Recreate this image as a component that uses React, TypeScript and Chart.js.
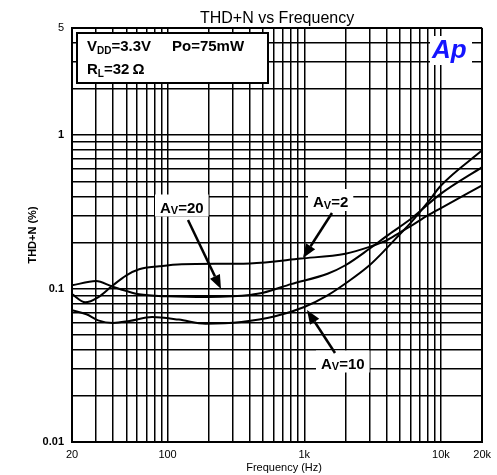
import React, { useEffect, useRef } from 'react';
import { Chart, registerables } from 'chart.js';
Chart.register(...registerables);

const FAM = '"Liberation Sans", Arial, Helvetica, sans-serif';

const TITLE = 'THD+N vs Frequency';
const X_TITLE = 'Frequency (Hz)';
const Y_TITLE = 'THD+N (%)';

const X_MIN = 20;
const X_MAX = 20000;
const Y_MIN = 0.01;
const Y_MAX = 5;

const X_GRID = [20, 30, 40, 50, 60, 70, 80, 90, 100, 200, 300, 400, 500, 600, 700, 800, 900, 1000, 2000, 3000, 4000, 5000, 6000, 7000, 8000, 9000, 10000, 20000];
const Y_GRID = [0.01, 0.02, 0.03, 0.04, 0.05, 0.06, 0.07, 0.08, 0.09, 0.1, 0.2, 0.3, 0.4, 0.5, 0.6, 0.7, 0.8, 0.9, 1, 2, 3, 4, 5];

const X_LABEL_VALUES = [20, 100, 1000, 10000, 20000];
const X_LABEL_TEXT = ['20', '100', '1k', '10k', '20k'];
const Y_LABEL_VALUES = [0.01, 0.1, 1, 5];
const Y_LABEL_TEXT = ['0.01', '0.1', '1', '5'];

// Av = 2
const AV2_FREQ = [20, 25, 31, 39, 50, 62, 87, 127, 400, 944, 2000, 3000, 4000, 5000, 6000, 8000, 10000, 20000];
const AV2_THD = [0.092, 0.0814, 0.0878, 0.1035, 0.122, 0.1336, 0.1397, 0.144, 0.146, 0.157, 0.169, 0.187, 0.206, 0.232, 0.255, 0.3, 0.335, 0.471];

// Av = 20
const AV20_FREQ = [20, 30, 39, 50, 62, 100, 200, 300, 400, 500, 800, 1480, 2000, 3000, 4000, 6000, 10000, 20000];
const AV20_THD = [0.105, 0.112, 0.1035, 0.0965, 0.0918, 0.089, 0.088, 0.089, 0.091, 0.094, 0.107, 0.125, 0.142, 0.182, 0.22, 0.284, 0.416, 0.62];

// Av = 10
const AV10_FREQ = [20, 25.5, 31, 40, 52.6, 77, 121, 190, 347, 612, 1000, 1480, 2000, 3000, 4000, 5000, 6000, 8000, 10000, 20000];
const AV10_THD = [0.0722, 0.068, 0.0621, 0.0597, 0.0615, 0.0653, 0.0628, 0.0591, 0.0606, 0.066, 0.0759, 0.0904, 0.108, 0.142, 0.183, 0.226, 0.268, 0.365, 0.47, 0.797];

const near = (a: number, b: number) => Math.abs(a - b) < 1e-9 * Math.max(1, Math.abs(b));

function pts(xs: number[], ys: number[]) {
  return xs.map((x, i) => ({ x, y: ys[i] }));
}

type Part = { t: string; size: number; dy?: number };

function runs(ctx: CanvasRenderingContext2D, x: number, y: number, parts: Part[]) {
  let cx = x;
  for (const p of parts) {
    ctx.font = `bold ${p.size}px ${FAM}`;
    ctx.fillText(p.t, cx, y + (p.dy || 0));
    cx += ctx.measureText(p.t).width;
  }
  return cx - x;
}

function measure(ctx: CanvasRenderingContext2D, parts: Part[]) {
  let w = 0;
  for (const p of parts) {
    ctx.font = `bold ${p.size}px ${FAM}`;
    w += ctx.measureText(p.t).width;
  }
  return w;
}

function arrow(ctx: CanvasRenderingContext2D, x1: number, y1: number, x2: number, y2: number) {
  const ang = Math.atan2(y2 - y1, x2 - x1);
  const L = 14;
  const W = 5.5;
  const bx = x2 - L * Math.cos(ang);
  const by = y2 - L * Math.sin(ang);
  ctx.save();
  ctx.strokeStyle = '#000';
  ctx.fillStyle = '#000';
  ctx.lineWidth = 2.5;
  ctx.beginPath();
  ctx.moveTo(x1, y1);
  ctx.lineTo(bx, by);
  ctx.stroke();
  ctx.beginPath();
  ctx.moveTo(x2, y2);
  ctx.lineTo(bx + W * Math.sin(ang), by - W * Math.cos(ang));
  ctx.lineTo(bx - W * Math.sin(ang), by + W * Math.cos(ang));
  ctx.closePath();
  ctx.fill();
  ctx.restore();
}

function avLabel(ctx: CanvasRenderingContext2D, x: number, y: number, gain: string) {
  const parts: Part[] = [
    { t: 'A', size: 15 },
    { t: 'V', size: 11, dy: 1.5 },
    { t: '=' + gain, size: 15 },
  ];
  const w = measure(ctx, parts);
  ctx.fillStyle = '#fff';
  ctx.fillRect(x - 5, y - 18, w + 10, 22);
  ctx.fillStyle = '#000';
  runs(ctx, x, y, parts);
}

const decorPlugin = {
  id: 'decor',
  beforeDraw(chart: any) {
    const ctx = chart.ctx;
    ctx.save();
    ctx.fillStyle = '#fff';
    ctx.fillRect(0, 0, chart.width, chart.height);
    ctx.restore();
  },
  afterDraw(chart: any) {
    const ctx: CanvasRenderingContext2D = chart.ctx;
    const a = chart.chartArea;
    ctx.save();
    ctx.textBaseline = 'alphabetic';
    ctx.textAlign = 'left';

    // Title
    ctx.fillStyle = '#000';
    ctx.font = `16px ${FAM}`;
    ctx.textAlign = 'center';
    ctx.fillText(TITLE, (a.left + a.right) / 2, 22.5);

    // X title
    ctx.font = `11px ${FAM}`;
    ctx.fillText(X_TITLE, (a.left + a.right) / 2 + 7, 471);

    // Y title
    ctx.save();
    ctx.translate(36, (a.top + a.bottom) / 2);
    ctx.rotate(-Math.PI / 2);
    ctx.font = `bold 11px ${FAM}`;
    ctx.textBaseline = 'alphabetic';
    ctx.fillText(Y_TITLE, 0, 0);
    ctx.restore();

    ctx.textAlign = 'left';

    // Condition box
    ctx.fillStyle = '#fff';
    ctx.fillRect(77, 33, 191, 50);
    ctx.strokeStyle = '#000';
    ctx.lineWidth = 2;
    ctx.strokeRect(77, 33, 191, 50);
    ctx.fillStyle = '#000';
    runs(ctx, 87, 51, [
      { t: 'V', size: 15 },
      { t: 'DD', size: 10, dy: 3 },
      { t: '=3.3V', size: 15 },
    ]);
    runs(ctx, 172, 51, [{ t: 'Po=75mW', size: 15 }]);
    const w2 = runs(ctx, 87, 74, [
      { t: 'R', size: 15 },
      { t: 'L', size: 10, dy: 3 },
      { t: '=32', size: 15 },
    ]);
    runs(ctx, 87 + w2 + 3, 74, [{ t: '\u03A9', size: 15 }]);

    // Ap logo
    ctx.fillStyle = '#fff';
    ctx.fillRect(430, 36, 42, 29);
    ctx.fillStyle = '#1414ff';
    ctx.font = `italic bold 26px ${FAM}`;
    ctx.fillText('Ap', 432, 58);

    // Annotations
    avLabel(ctx, 160, 212.5, '20');
    arrow(ctx, 188, 220, 221, 289);
    avLabel(ctx, 313, 207, '2');
    arrow(ctx, 332, 213, 303, 258);
    avLabel(ctx, 321, 368.5, '10');
    arrow(ctx, 335, 353, 307, 310);

    ctx.restore();
  },
};

export default function App() {
  const ref = useRef<HTMLCanvasElement | null>(null);

  useEffect(() => {
    if (!ref.current) return;
    const lineDs = (data: { x: number; y: number }[]) => ({
      data,
      borderColor: '#000',
      borderWidth: 2,
      pointRadius: 0,
      fill: false,
      cubicInterpolationMode: 'monotone' as const,
    });

    const gridWidthX = (c: any) => (c.tick && (near(c.tick.value, X_MIN) || near(c.tick.value, X_MAX)) ? 2 : 1.5);
    const gridWidthY = (c: any) => (c.tick && (near(c.tick.value, Y_MIN) || near(c.tick.value, Y_MAX)) ? 2 : 1.5);

    const chart = new Chart(ref.current, {
      type: 'line',
      data: {
        datasets: [
          { label: 'Av=2', ...lineDs(pts(AV2_FREQ, AV2_THD)) },
          { label: 'Av=20', ...lineDs(pts(AV20_FREQ, AV20_THD)) },
          { label: 'Av=10', ...lineDs(pts(AV10_FREQ, AV10_THD)) },
        ],
      },
      options: {
        animation: false,
        responsive: false,
        maintainAspectRatio: false,
        parsing: false,
        layout: { padding: { left: 0, top: 28, right: 12, bottom: 0 } },
        plugins: {
          legend: { display: false },
          tooltip: { enabled: false },
          title: { display: false },
        },
        scales: {
          x: {
            type: 'logarithmic',
            min: X_MIN,
            max: X_MAX,
            afterBuildTicks: (s: any) => {
              s.ticks = X_GRID.map((v) => ({ value: v }));
            },
            afterFit: (s: any) => {
              s.height = 33;
            },
            grid: { color: '#000', lineWidth: gridWidthX, drawTicks: false },
            border: { display: true, color: '#000', width: 2 },
            ticks: {
              autoSkip: false,
              maxRotation: 0,
              minRotation: 0,
              padding: 6,
              color: '#000',
              font: { family: FAM, size: 11 },
              callback: (v: any) => {
                const i = X_LABEL_VALUES.findIndex((x) => near(x, Number(v)));
                return i >= 0 ? X_LABEL_TEXT[i] : '';
              },
            },
          },
          y: {
            type: 'logarithmic',
            min: Y_MIN,
            max: Y_MAX,
            afterBuildTicks: (s: any) => {
              s.ticks = Y_GRID.map((v) => ({ value: v }));
            },
            afterFit: (s: any) => {
              s.width = 72;
            },
            grid: { color: '#000', lineWidth: gridWidthY, drawTicks: false },
            border: { display: true, color: '#000', width: 2 },
            ticks: {
              autoSkip: false,
              padding: 8,
              color: '#000',
              font: (c: any) => ({
                family: FAM,
                size: 11,
                weight: c.tick && near(c.tick.value, 5) ? 'normal' : 'bold',
              }),
              callback: (v: any) => {
                const i = Y_LABEL_VALUES.findIndex((y) => near(y, Number(v)));
                return i >= 0 ? Y_LABEL_TEXT[i] : '';
              },
            },
          },
        },
      } as any,
      plugins: [decorPlugin],
    });
    return () => chart.destroy();
  }, []);

  return (
    <div style={{ position: 'absolute', left: 0, top: 0, width: 497, height: 475, background: '#fff' }}>
      <canvas ref={ref} width={497} height={475} style={{ width: 497, height: 475, display: 'block' }} />
    </div>
  );
}
